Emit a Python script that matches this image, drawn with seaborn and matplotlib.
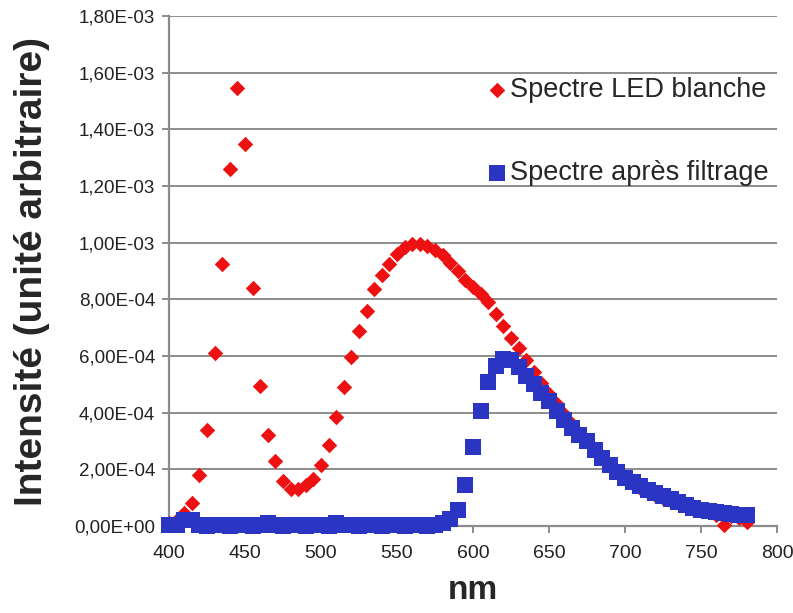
import numpy as np
import pandas as pd
import seaborn as sns
import matplotlib.pyplot as plt
import matplotlib.ticker as ticker

# longueurs d'onde (nm), pas de 5 nm
nm = list(range(400, 785, 5))

# intensites (en unites de 1e-4)
led_blanche = [
    0.1, 0.2, 0.45, 0.8, 1.8, 3.4, 6.1, 9.25, 12.6, 15.45,
    13.5, 8.4, 4.95, 3.2, 2.3, 1.6, 1.3, 1.3, 1.45, 1.65,
    2.15, 2.85, 3.85, 4.9, 5.95, 6.9, 7.6, 8.35, 8.85, 9.25,
    9.6, 9.85, 9.95, 9.95, 9.9, 9.75, 9.55, 9.3, 9.0, 8.7,
    8.45, 8.2, 7.9, 7.5, 7.05, 6.65, 6.3, 5.85, 5.45, 5.05,
    4.65, 4.3, 3.95, 3.6, 3.3, 3.0, 2.7, 2.4, 2.15, 1.9,
    1.7, 1.5, 1.35, 1.2, 1.1, 1.0, 0.9, 0.8, 0.7, 0.6,
    0.55, 0.5, 0.4, 0.05, 0.35, 0.3, 0.15,
]
apres_filtrage = [
    0.05, 0.05, 0.2, 0.2, 0.05, 0.0, 0.05, 0.05, 0.0, 0.05,
    0.05, 0.0, 0.05, 0.1, 0.05, 0.0, 0.05, 0.05, 0.0, 0.05,
    0.05, 0.0, 0.1, 0.05, 0.05, 0.0, 0.05, 0.05, 0.0, 0.05,
    0.05, 0.0, 0.05, 0.05, 0.0, 0.05, 0.1, 0.25, 0.55, 1.45,
    2.8, 4.05, 5.1, 5.65, 5.9, 5.85, 5.6, 5.3, 5.0, 4.7,
    4.4, 4.05, 3.75, 3.45, 3.2, 3.0, 2.7, 2.4, 2.15, 1.9,
    1.7, 1.55, 1.4, 1.28, 1.15, 1.05, 0.95, 0.85, 0.75, 0.65,
    0.58, 0.52, 0.48, 0.45, 0.42, 0.4, 0.38,
]

y_ticks = [i * 2e-4 for i in range(10)]
x_ticks = [400, 450, 500, 550, 600, 650, 700, 750, 800]

df = pd.DataFrame({
    "nm": nm,
    "led": np.array(led_blanche) * 1e-4,
    "filtre": np.array(apres_filtrage) * 1e-4,
})

sns.set_style("white")
plt.rcParams['font.family'] = ['Liberation Sans', 'DejaVu Sans']

gris = "#8c8c8c"
fig = plt.figure(figsize=(7.93, 6.13), dpi=100)
ax = fig.add_axes([0.2131, 0.1419, 0.7667, 0.832])

sns.scatterplot(data=df, x="nm", y="led", ax=ax, marker="D", s=62,
                color="#ee1111", linewidth=0, clip_on=False, zorder=3,
                label="Spectre LED blanche")
sns.scatterplot(data=df, x="nm", y="filtre", ax=ax, marker="s", s=120,
                color="#2b35c4", linewidth=0, clip_on=False, zorder=4,
                label="Spectre après filtrage")

ax.set_xlim(400, 800)
ax.set_ylim(0, 1.8e-3)
ax.set_xticks(x_ticks)
ax.set_yticks(y_ticks)
ax.yaxis.set_major_formatter(ticker.FuncFormatter(
    lambda v, _: f"{v:.2E}".replace(".", ",")))

ax.grid(axis="y", color=gris, linewidth=1.4)
ax.grid(axis="x", visible=False)
ax.set_axisbelow(True)
for s in ["top", "right"]:
    ax.spines[s].set_visible(False)
for s in ["left", "bottom"]:
    ax.spines[s].set_color(gris)
    ax.spines[s].set_linewidth(1.6)

ax.tick_params(axis="y", which="major", direction="out", length=5, width=1.4,
               color=gris, labelsize=13.5, pad=5, left=True, labelcolor="#222222")
ax.tick_params(axis="x", which="major", direction="out", length=5, width=1.4,
               color=gris, labelsize=14, pad=9, bottom=True, labelcolor="#222222")

ax.set_xlabel("nm", fontsize=24, fontweight="bold", labelpad=9)
ax.set_ylabel("Intensité (unité arbitraire)", fontsize=28, fontweight="bold", labelpad=17)

ax.legend(loc="upper left", bbox_to_anchor=(0.528, 0.880), frameon=False,
          fontsize=19.5, borderpad=0, borderaxespad=0, labelspacing=2.1,
          handlelength=0.5, handletextpad=0.25)

plt.savefig("out.png", dpi=100)
